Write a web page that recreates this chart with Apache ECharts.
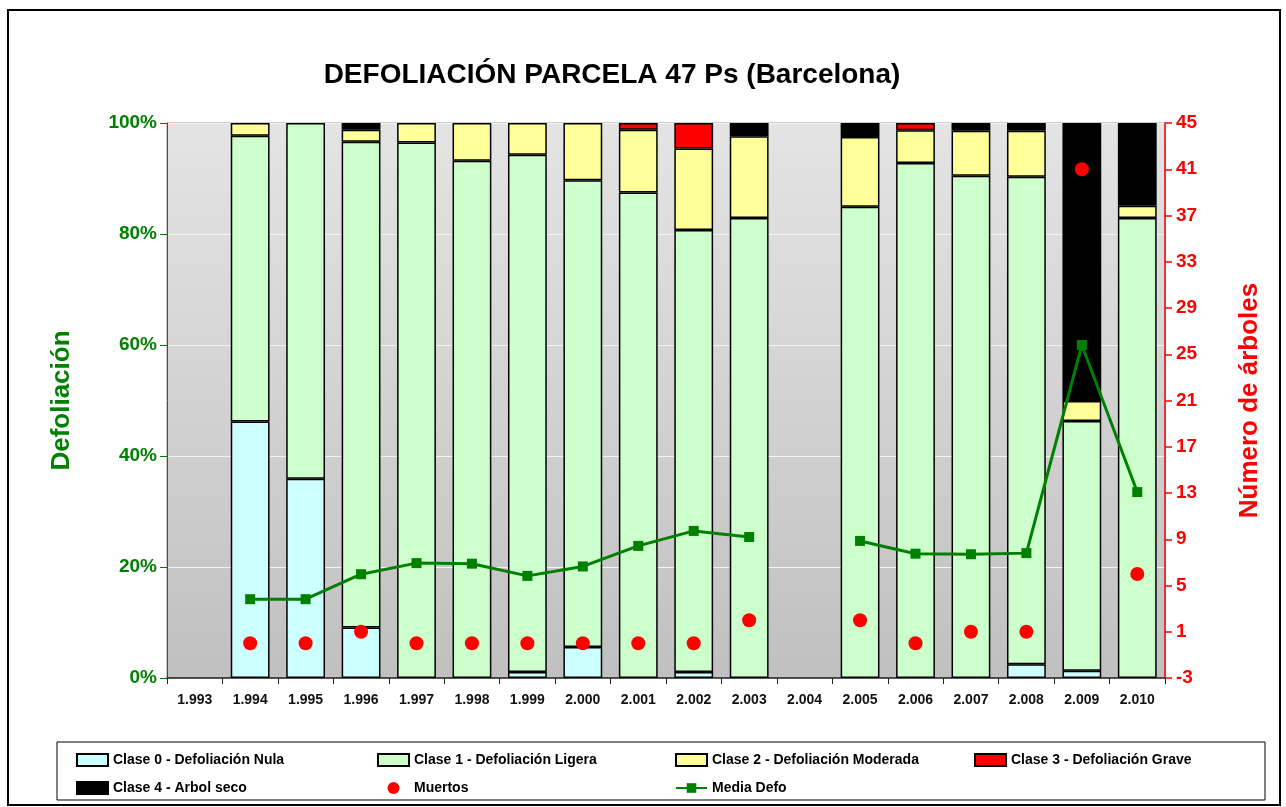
<!DOCTYPE html>
<html>
<head>
<meta charset="utf-8">
<script src="https://cdn.jsdelivr.net/npm/echarts@6/dist/echarts.min.js"></script>
<style>
  html, body { margin: 0; padding: 0; background: #fff; }
  #chart { width: 1286px; height: 807px; }
</style>
</head>
<body>
<div id="chart"></div>
<script>
const years = ['1.993', '1.994', '1.995', '1.996', '1.997', '1.998', '1.999', '2.000', '2.001',
  '2.002', '2.003', '2.004', '2.005', '2.006', '2.007', '2.008', '2.009', '2.010'];

// stacked percentages per class
const clase0 = [null, 46.2, 35.9, 9.1, null, null, 1.1, 5.6, null, 1.1, null, null, null, null, null, 2.5, 1.3, null];
const clase1 = [null, 51.5, 64.1, 87.5, 96.5, 93.2, 93.2, 84.1, 87.5, 79.6, 82.9, null, 84.9, 92.8, 90.5, 87.8, 45.0, 82.9];
const clase2 = [null, 2.3, null, 2.2, 3.5, 6.8, 5.7, 10.3, 11.3, 14.7, 14.7, null, 12.6, 5.9, 8.1, 8.3, 3.6, 2.2];
const clase3 = [null, null, null, null, null, null, null, null, 1.2, 4.6, null, null, null, 1.3, null, null, null, null];
const clase4 = [null, null, null, 1.2, null, null, null, null, null, null, 2.4, null, 2.5, null, 1.4, 1.4, 50.1, 14.9];

const muertos = [null, 0, 0, 1, 0, 0, 0, 0, 0, 0, 2, null, 2, 0, 1, 1, 41, 6];
const mediaDefo = [null, 14.2, 14.2, 18.7, 20.7, 20.6, 18.4, 20.1, 23.8, 26.5, 25.4, null, 24.7, 22.4, 22.3, 22.5, 60.0, 33.5];

const FONT = '"Liberation Sans", Arial, sans-serif';
const GREEN = '#008000';
const RED = '#ff0000';

function barSeries(name, data, color) {
  return {
    name,
    type: 'bar',
    stack: 'defo',
    data,
    barCategoryGap: '30%',
    itemStyle: { color, borderColor: '#000', borderWidth: 1.5 },
    emphasis: { disabled: true },
  };
}

const legendText = { fontFamily: FONT, fontWeight: 'bold', fontSize: 14, color: '#000' };
function legendCol(left, names) {
  return {
    orient: 'vertical',
    left,
    top: 748,
    itemWidth: 31,
    itemHeight: 12,
    itemGap: 14,
    textStyle: legendText,
    // bar classes get plain square-cornered swatches
    data: names.map((n) => (n.startsWith('Clase') ? { name: n, icon: 'rect' } : n)),
  };
}

const chart = echarts.init(document.getElementById('chart'));
chart.setOption({
  animation: false,
  textStyle: { fontFamily: FONT },
  title: {
    text: 'DEFOLIACIÓN PARCELA 47 Ps (Barcelona)',
    left: 607,
    top: 56,
    textAlign: 'center',
    textStyle: { fontFamily: FONT, fontWeight: 'bold', fontSize: 28, color: '#000' },
  },
  graphic: [
    { type: 'rect', shape: { x: 8, y: 10, width: 1272, height: 795 },
      style: { fill: 'none', stroke: '#000', lineWidth: 2 }, silent: true, z: -10 },
    { type: 'rect', shape: { x: 57, y: 742, width: 1208, height: 58 },
      style: { fill: '#fff', stroke: '#000', lineWidth: 1 }, silent: true, z: -5 },
  ],
  legend: [
    legendCol(71, ['Clase 0 - Defoliación Nula', 'Clase 4 - Arbol seco']),
    legendCol(372, ['Clase 1 - Defoliación Ligera', 'Muertos']),
    legendCol(670, ['Clase 2 - Defoliación Moderada', 'Media Defo']),
    legendCol(969, ['Clase 3 - Defoliación Grave']),
  ],
  grid: {
    left: 167, right: 121, top: 123, bottom: 129,
    show: true,
    borderWidth: 1,
    borderColor: '#9a9a9a',
    backgroundColor: new echarts.graphic.LinearGradient(0, 0, 0, 1, [
      { offset: 0, color: '#e4e4e4' },
      { offset: 1, color: '#c0c0c0' },
    ]),
  },
  xAxis: {
    type: 'category',
    data: years,
    axisLine: { lineStyle: { color: '#222', width: 1.5 } },
    axisTick: { show: true, length: 6, lineStyle: { color: '#222' } },
    axisLabel: { fontFamily: FONT, fontWeight: 'bold', fontSize: 14, color: '#111', margin: 15 },
    splitLine: { show: false },
  },
  yAxis: [
    {
      type: 'value',
      min: 0, max: 100, interval: 20,
      name: 'Defoliación',
      nameLocation: 'middle',
      nameGap: 92,
      nameTextStyle: { fontFamily: FONT, fontWeight: 'bold', fontSize: 26, color: GREEN },
      axisLine: { show: true, lineStyle: { color: GREEN, width: 1 } },
      axisTick: { show: true, length: 7, lineStyle: { color: GREEN } },
      axisLabel: { formatter: '{value}%', fontFamily: FONT, fontWeight: 'bold', fontSize: 19, color: GREEN, margin: 10 },
      splitLine: { show: true, lineStyle: { color: '#f4f4f4', width: 1 } },
    },
    {
      type: 'value',
      min: -3, max: 45, interval: 4,
      name: 'Número de árboles',
      nameLocation: 'middle',
      nameGap: 72,
      nameTextStyle: { fontFamily: FONT, fontWeight: 'bold', fontSize: 26, color: RED },
      axisLine: { show: true, lineStyle: { color: RED, width: 1.5 } },
      axisTick: { show: true, length: 7, lineStyle: { color: RED, width: 1.5 } },
      axisLabel: { fontFamily: FONT, fontWeight: 'bold', fontSize: 19, color: RED, margin: 11 },
      splitLine: { show: false },
    },
  ],
  series: [
    barSeries('Clase 0 - Defoliación Nula', clase0, '#ccffff'),
    barSeries('Clase 1 - Defoliación Ligera', clase1, '#ccffcc'),
    barSeries('Clase 2 - Defoliación Moderada', clase2, '#ffff99'),
    barSeries('Clase 3 - Defoliación Grave', clase3, '#ff0000'),
    barSeries('Clase 4 - Arbol seco', clase4, '#000000'),
    {
      name: 'Muertos',
      type: 'scatter',
      yAxisIndex: 1,
      data: muertos,
      symbol: 'circle',
      symbolSize: 14,
      itemStyle: { color: RED, opacity: 1 },
      z: 5,
    },
    {
      name: 'Media Defo',
      type: 'line',
      yAxisIndex: 0,
      data: mediaDefo,
      connectNulls: false,
      symbol: 'rect',
      symbolSize: 10,
      lineStyle: { color: GREEN, width: 3 },
      itemStyle: { color: GREEN },
      z: 6,
    },
  ],
});
</script>
</body>
</html>
